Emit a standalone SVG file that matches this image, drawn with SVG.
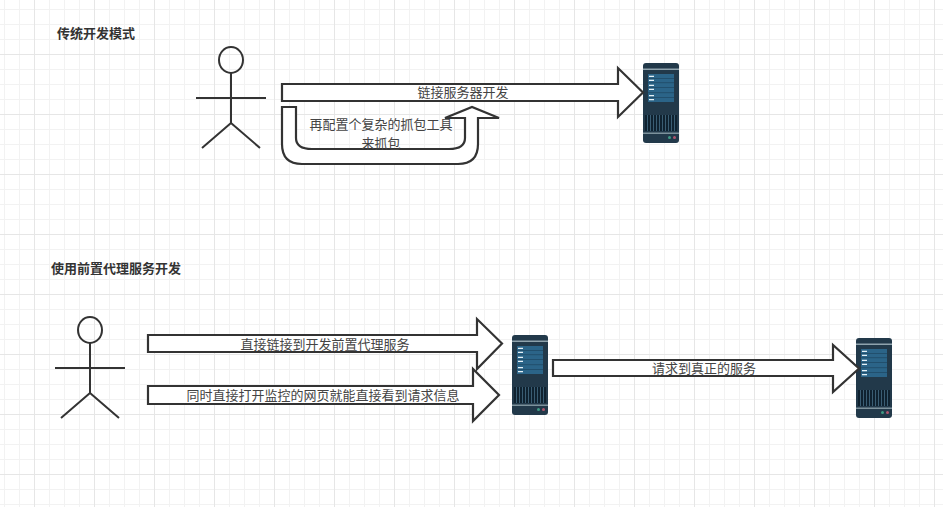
<svg xmlns="http://www.w3.org/2000/svg" width="943" height="507" viewBox="0 0 943 507">
<style>
text{font-family:"Noto Sans CJK SC","Liberation Sans",sans-serif;font-size:13px;fill:#444;text-anchor:middle}
.title{font-weight:700;fill:#333;text-anchor:start}
.shape{fill:#fff;stroke:#333;stroke-width:2.2;stroke-linejoin:miter}
.actor{fill:none;stroke:#333;stroke-width:2}
.minor{stroke:#f2f2f2;stroke-width:1}
.major{stroke:#e6e6e6;stroke-width:1}
</style>
<defs>
<pattern id="gm" width="15" height="15" patternUnits="userSpaceOnUse" patternTransform="translate(4 9)">
<path d="M0.500 0V15M0 0.500H15" class="minor" fill="none"/>
</pattern>
<pattern id="gM" width="60" height="60" patternUnits="userSpaceOnUse" patternTransform="translate(34 54)">
<path d="M0.500 0V60M0 0.500H60" class="major" fill="none"/>
</pattern>
<g id="server">
<rect x="0" y="0" width="36" height="80" rx="3" fill="#22394a"/>
<rect x="0" y="5.500" width="36" height="1.500" fill="#8fa3ad"/>
<rect x="0" y="69.500" width="36" height="1.500" fill="#7d929c"/>
<rect x="5" y="11" width="26" height="28" fill="#2b6488"/>
<path d="M5 15.500H31M5 19.700H31M5 24.500H31M5 29.700H31M5 34.500H31" stroke="#1f4a66" stroke-width="0.800" fill="none"/>
<path d="M6 13.300H11M6 17.300H11M6 22.300H11M6 26.300H11M6 32.700H11M6 36.700H11" stroke="#e6f1f7" stroke-width="1.200" fill="none"/>
<rect x="2" y="52" width="32" height="16" fill="#0f2230"/>
<path d="M4.500 52V68M7.500 52V68M10.500 52V68M13.500 52V68M16.500 52V68M19.500 52V68M22.500 52V68M25.500 52V68M28.500 52V68M31.500 52V68" stroke="#3a5d73" stroke-width="1" fill="none"/>
<circle cx="26.500" cy="74.500" r="1.500" fill="#3f9c86"/>
<circle cx="31.500" cy="74.500" r="1.500" fill="#b0556e"/>
</g>
<g id="actor">
<ellipse cx="35" cy="13" rx="12" ry="13" class="actor"/>
<path d="M35 26V76M0 51H70M35 76L6 101M35 76L64 101" class="actor"/>
</g>
</defs>
<rect width="943" height="507" fill="#fff"/>
<rect id="grid-minor" width="943" height="507" fill="url(#gm)"/>
<rect id="grid-major" width="943" height="507" fill="url(#gM)"/>

<text id="title-1" class="title" x="57" y="38">传统开发模式</text>
<text id="title-2" class="title" x="51" y="273">使用前置代理服务开发</text>

<g id="actor-1"><use href="#actor" x="196" y="47"/></g>
<g id="actor-2"><use href="#actor" x="55" y="317"/></g>
<g id="server-1"><use href="#server" x="643" y="63"/></g>
<g id="server-2"><use href="#server" x="512" y="335"/></g>
<g id="server-3"><use href="#server" x="856" y="338"/></g>

<g id="connectors">
<g id="arrow-connect">
<path class="shape" d="M282 84H618V68L643 92.500L618 117V101H282Z"/>
<text x="463" y="97">链接服务器开发</text>
</g>
<g id="arrow-capture">
<path class="shape" d="M282 107H296V138Q296 149 312 149H449Q465 149 465 138V118H445L472 107L499 118H478V144Q478 164 458 164H302Q282 164 282 144Z"/>
<text x="381" y="129">再配置个复杂的抓包工具</text>
<text x="381" y="148">来抓包</text>
</g>
<g id="arrow-direct">
<path class="shape" d="M148 335H477V319L502 343.500L477 369V352H148Z"/>
<text x="325" y="349">直接链接到开发前置代理服务</text>
</g>
<g id="arrow-monitor">
<path class="shape" d="M148 386H473V369L499 395L473 421V404H148Z"/>
<text x="323" y="400">同时直接打开监控的网页就能直接看到请求信息</text>
</g>
<g id="arrow-forward">
<path class="shape" d="M553 360H833V345L859 368.500L833 392V376H553Z"/>
<text x="704" y="373">请求到真正的服务</text>
</g>
</g>
</svg>
